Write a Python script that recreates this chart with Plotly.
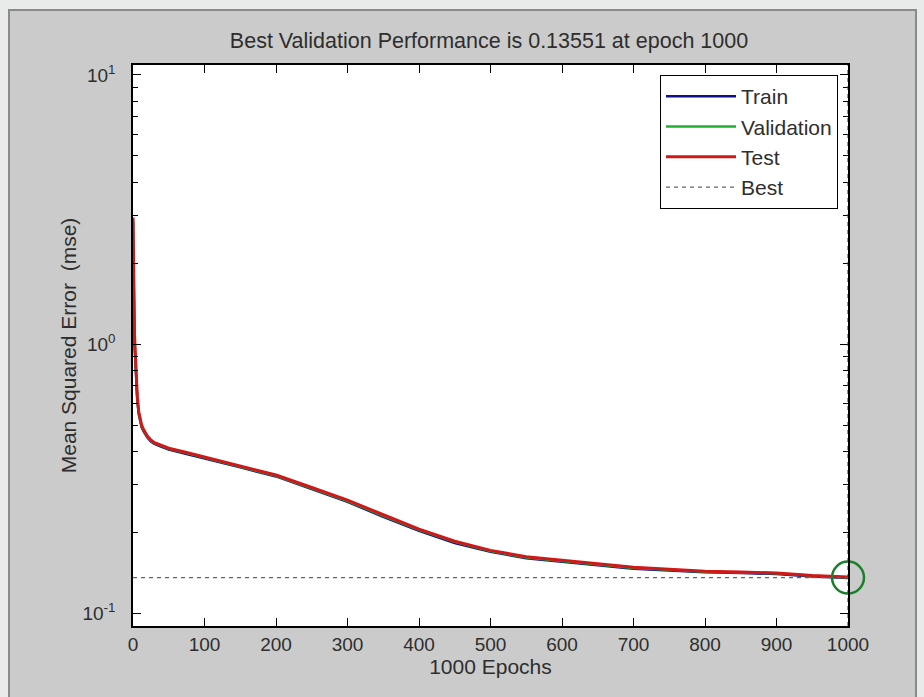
import plotly.graph_objects as go

# Training record: mean squared error per epoch
epochs = [0, 1, 2, 3, 4, 5, 6, 8, 10, 12, 15, 20, 25, 30, 40, 50, 75, 100,
          150, 200, 250, 300, 350, 400, 450, 500, 550, 600, 650, 700, 750,
          800, 850, 900, 950, 1000]
test_mse = [2.95, 1.40, 1.10, 0.95, 0.82, 0.72, 0.64, 0.56, 0.52, 0.50, 0.48,
            0.455, 0.44, 0.43, 0.42, 0.41, 0.395, 0.38, 0.352, 0.326, 0.293,
            0.263, 0.232, 0.205, 0.185, 0.171, 0.162, 0.157, 0.152, 0.148,
            0.1455, 0.143, 0.142, 0.141, 0.138, 0.1362]
val_mse = [2.90, 1.36, 1.07, 0.93, 0.80, 0.71, 0.63, 0.555, 0.515, 0.495, 0.476,
           0.452, 0.437, 0.428, 0.418, 0.408, 0.393, 0.378, 0.350, 0.324, 0.291,
           0.261, 0.230, 0.204, 0.184, 0.170, 0.161, 0.156, 0.151, 0.147,
           0.1448, 0.1425, 0.1415, 0.1405, 0.1375, 0.13551]
train_mse = [2.85, 1.30, 1.02, 0.90, 0.78, 0.69, 0.62, 0.55, 0.51, 0.49, 0.472,
             0.449, 0.434, 0.425, 0.415, 0.405, 0.390, 0.376, 0.348, 0.322, 0.289,
             0.259, 0.228, 0.202, 0.182, 0.169, 0.160, 0.155, 0.150, 0.146,
             0.1440, 0.1418, 0.1408, 0.1398, 0.1368, 0.1350]
best_epoch = 1000
best_perf = 0.13551

W, H = 924, 697
L, R, T, B = 133, 76, 65, 71
pw, ph = W - L - R, H - T - B


def px(x):
    return (x - L) / pw


def py(y):
    return (H - B - y) / ph


font = "Liberation Sans, Arial, sans-serif"
txt = "#2e2e2e"

fig = go.Figure()
fig.add_trace(go.Scatter(x=epochs, y=train_mse, mode="lines", name="Train",
                         line=dict(color="#10108a", width=2.5), legendgroup="a"))
fig.add_trace(go.Scatter(x=epochs, y=val_mse, mode="lines", name="Validation",
                         line=dict(color="#20b030", width=2.5), legendgroup="b"))
fig.add_trace(go.Scatter(x=epochs, y=test_mse, mode="lines", name="Test",
                         line=dict(color="#d01818", width=3), legendgroup="c"))
fig.add_trace(go.Scatter(x=[0, best_epoch], y=[best_perf, best_perf], mode="lines",
                         name="Best", line=dict(color="#5a6a5a", width=1.2, dash="4px,4px"),
                         legendgroup="d"))
fig.add_trace(go.Scatter(x=[best_epoch], y=[best_perf], mode="markers", showlegend=False,
                         marker=dict(symbol="circle-open", size=32, color="#1a7f2a",
                                     line=dict(width=2.5, color="#1a7f2a")),
                         cliponaxis=False))

# vertical marker at the best epoch
fig.add_shape(type="line", xref="x", yref="paper", x0=best_epoch, x1=best_epoch,
              y0=0, y1=1, line=dict(color="#3a5a3a", width=1.2, dash="4px,4px"))

# figure window frame and white axes area
fig.add_shape(type="rect", xref="paper", yref="paper", layer="below",
              x0=px(9), x1=px(916), y0=py(10), y1=py(H + 5),
              fillcolor="#cbcbcb", line=dict(color="#8a8a8a", width=2))
fig.add_shape(type="rect", xref="paper", yref="paper", layer="below",
              x0=0, x1=1, y0=0, y1=1, fillcolor="white", line=dict(width=0))

fig.update_layout(
    width=W, height=H,
    margin=dict(l=L, r=R, t=T, b=B),
    paper_bgcolor="#e9ebea", plot_bgcolor="white",
    font=dict(family=font, size=19, color=txt),
    title=dict(text="Best Validation Performance is 0.13551 at epoch 1000",
               xref="container", x=489 / W, xanchor="center",
               yref="container", y=1 - 40 / H, yanchor="middle",
               font=dict(size=21.5, color=txt)),
    legend=dict(x=px(838), xanchor="right", y=py(75), yanchor="top",
                bgcolor="white", bordercolor="black", borderwidth=1,
                font=dict(size=21, color=txt), tracegroupgap=2, itemwidth=70,
                traceorder="normal"),
    showlegend=True,
)
fig.update_xaxes(range=[0, 1000], tickvals=[0, 100, 200, 300, 400, 500, 600, 700, 800, 900, 1000],
                 ticks="inside", ticklen=8, tickcolor="black", mirror="ticks",
                 showline=True, linecolor="black", linewidth=1.5, showgrid=False,
                 zeroline=False, tickfont=dict(size=19, color=txt),
                 title=dict(text="1000 Epochs", font=dict(size=21, color=txt), standoff=4))
fig.update_yaxes(type="log", range=[-1.048, 1.037],
                 tickvals=[0.1, 1, 10],
                 ticktext=["10<sup>-1</sup>", "10<sup>0</sup>", "10<sup>1</sup>"],
                 ticks="inside", ticklen=8, tickcolor="black", mirror="ticks",
                 showline=True, linecolor="black", linewidth=1.5, showgrid=False,
                 zeroline=False, tickfont=dict(size=19, color=txt), ticklabelstandoff=12,
                 minor=dict(ticks="inside", ticklen=5, tickcolor="black", dtick="D1",
                            showgrid=False),
                 title=dict(text="Mean Squared Error  (mse)", font=dict(size=21, color=txt),
                            standoff=0))

fig.write_html("out.html")
